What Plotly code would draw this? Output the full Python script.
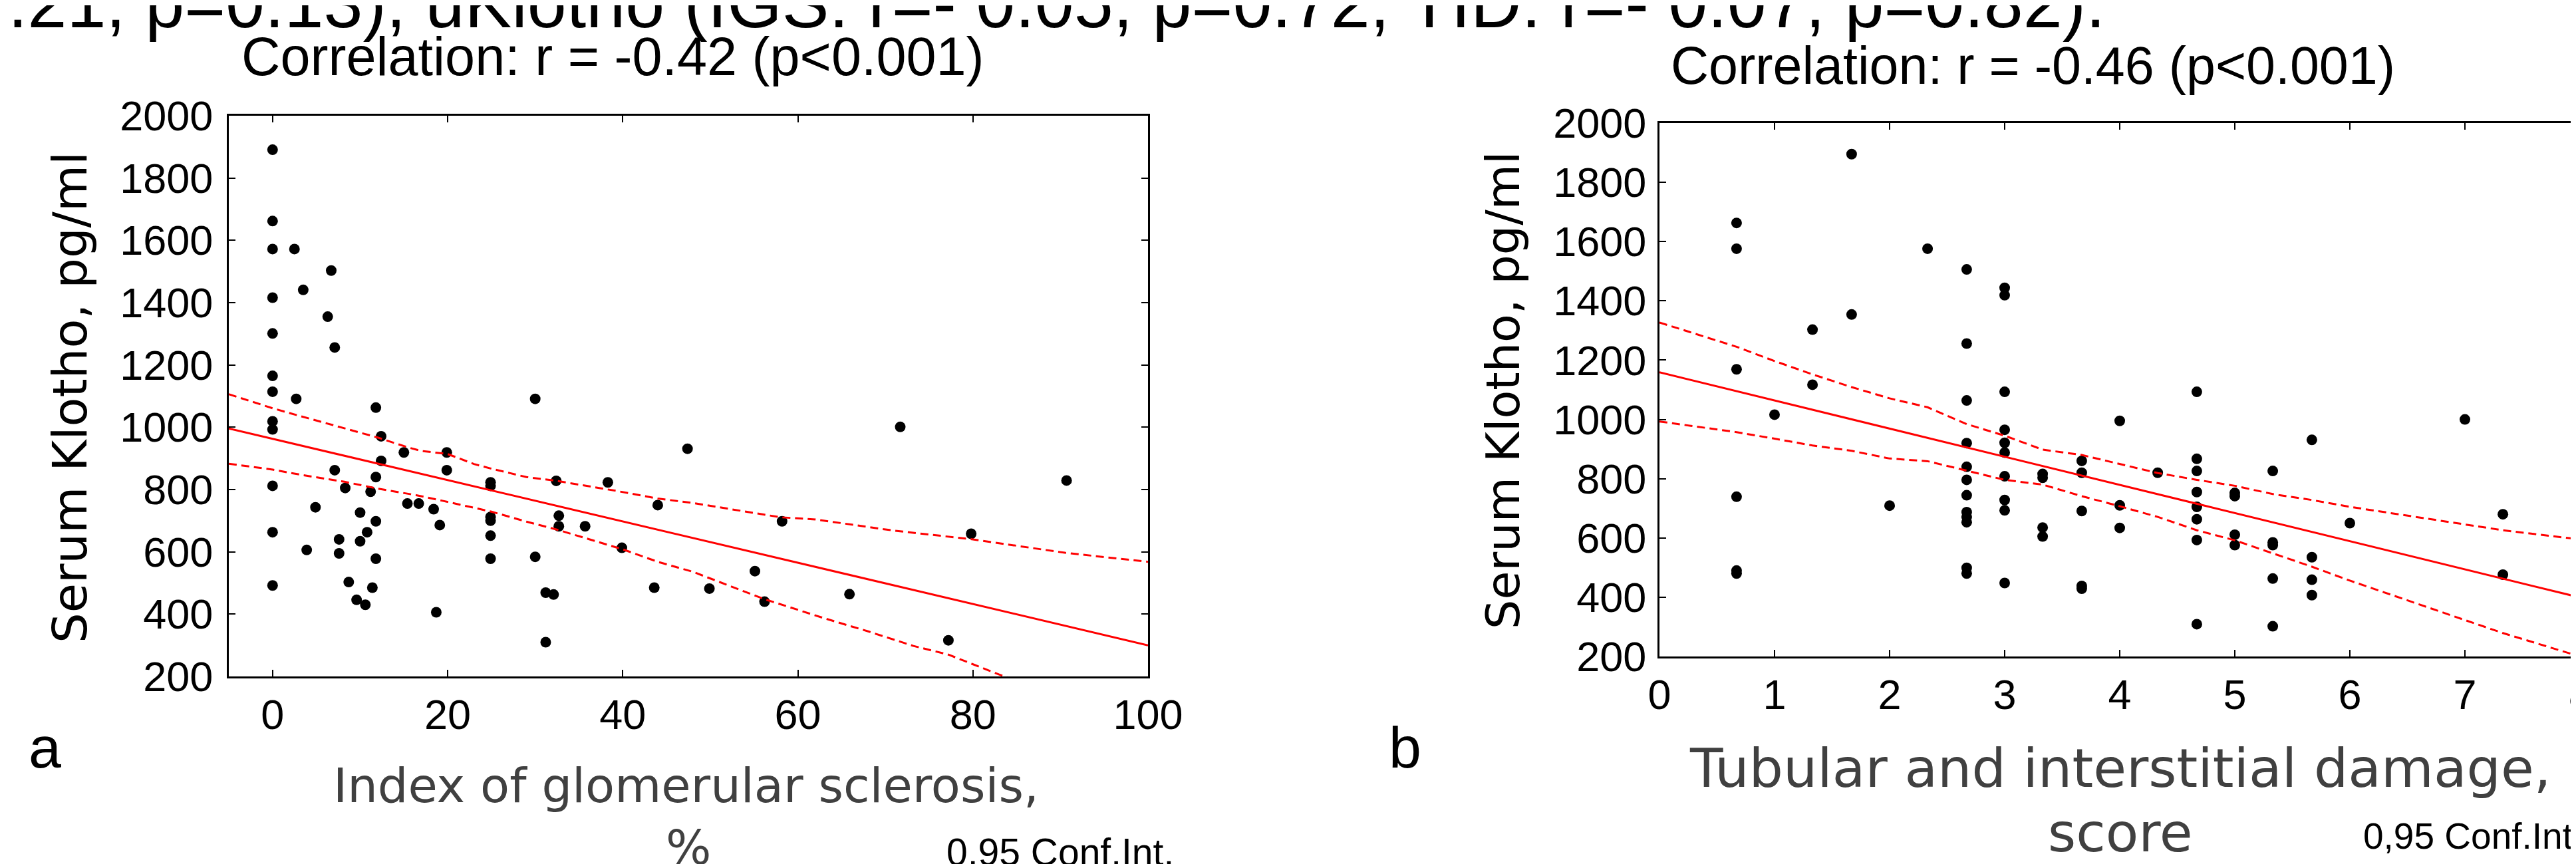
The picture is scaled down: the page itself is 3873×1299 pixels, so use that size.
import plotly.graph_objects as go

W, H = 3873, 1299

# ---------------- Panel a: Index of glomerular sclerosis (%) ----------------
igs_pct = [0, 0, 0, 2.5, 6.7, 3.5, 0, 6.3, 0, 7.1,
           0, 0, 2.7, 30.0, 11.8, 0, 0, 12.4, 15.0, 19.9,
           12.4, 7.1, 19.9, 11.8, 24.9, 24.9, 32.4, 38.3, 0, 8.3,
           11.2, 4.9, 15.4, 16.7, 18.4, 44.0, 10.0, 11.8, 19.1, 24.9,
           24.9, 32.7, 32.7, 35.7, 0, 10.8, 7.6, 10.0, 24.9, 39.9,
           3.9, 7.6, 11.8, 24.9, 30.0, 0, 8.7, 11.4, 43.6, 31.2,
           32.1, 9.6, 10.6, 18.7, 31.2, 47.4, 49.9, 55.1, 56.2, 58.2,
           65.9, 71.7, 77.2, 79.8, 90.7]
igs_klotho = [1891, 1662, 1572, 1572, 1503, 1441, 1416, 1355, 1301, 1256,
              1165, 1114, 1091, 1091, 1063, 1019, 993, 971, 919, 919,
              892, 862, 862, 840, 823, 812, 828, 823, 812, 805,
              793, 743, 755, 755, 737, 750, 726, 698, 686, 712,
              700, 716, 682, 682, 663, 663, 640, 634, 652, 613,
              606, 595, 578, 578, 584, 492, 503, 485, 485, 469,
              463, 446, 430, 406, 310, 931, 482, 538, 440, 698,
              464, 1001, 316, 658, 829]

igs_fit_x = [-5, 100]
igs_fit_y = [996, 300]
igs_ci_up_x = [-5, 0, 2, 7, 12, 15.5, 17, 20, 23, 25, 29, 32.4, 39.2, 44, 48,
               58, 62, 71, 80, 90.5, 100]
igs_ci_up_y = [1106, 1061, 1045, 1006, 967, 935, 924, 914, 882, 867, 840, 828,
               796, 771, 757, 711, 704, 668, 640, 597, 568]
igs_ci_lo_x = [-5, -1.6, 0, 3.5, 8.2, 12, 16.4, 19.4, 25, 29, 32.4, 36.1, 40,
               44, 48, 56.2, 63, 68.1, 73.2, 77.2, 83, 90, 100]
igs_ci_lo_y = [883, 871, 864, 846, 825, 803, 782, 764, 729, 697, 672, 641, 608,
               568, 536, 448, 387, 344, 298, 270, 206, 137, 32]

# ---------------- Panel b: Tubular and interstitial damage score -------------
tid_score = ([0.67] * 6 + [1.0] + [1.33] * 2 + [1.67] * 2 + [2.0] + [2.33]
             + [2.67] * 12 + [3.0] * 10 + [3.33] * 4 + [3.67] * 5 + [4.0] * 3
             + [4.33] + [4.67] * 8 + [5.0] * 4 + [5.33] * 5 + [5.67] * 4
             + [6.0] + [7.0] + [7.33] * 2)
tid_klotho = [1663, 1576, 1169, 739, 490, 480,
              1016,
              1303, 1117,
              1895, 1354,
              709,
              1576,
              1506, 1256, 1064, 920, 840, 796, 744, 687, 671, 653, 499, 480,
              1444, 1419, 1093, 965, 921, 888, 808, 728, 693, 448,
              816, 803, 635, 605,
              860, 820, 691, 438, 429,
              995, 710, 634,
              820,
              1093, 867, 826, 755, 705, 663, 593, 309,
              752, 741, 611, 576,
              826, 585, 576, 463, 302,
              931, 535, 459, 407,
              650,
              1000,
              680, 476]

tid_fit_x = [0, 8]
tid_fit_y = [1159, 399]
tid_ci_x = [0, 0.67, 1, 1.33, 1.67, 2, 2.33, 2.67, 3, 3.33, 3.67, 4, 4.33,
            4.67, 5, 5.33, 5.67, 6, 7, 7.33, 8]
tid_ci_up_y = [1327, 1245, 1197, 1152, 1109, 1071, 1041, 984, 945, 898, 880,
               850, 819, 796, 776, 748, 728, 705, 646, 626, 595]
tid_ci_lo_y = [993, 957, 935, 912, 894, 868, 859, 827, 796, 780, 741, 707,
               671, 626, 592, 548, 503, 456, 322, 279, 200]

y_ticks = list(range(200, 2001, 200))
igs_ticks = [0, 20, 40, 60, 80, 100]
tid_ticks = [0, 1, 2, 3, 4, 5, 6, 7, 8]

RED = "#ff0000"
ARIAL = "Liberation Sans, Arial, sans-serif"
VERD = "DejaVu Sans, Verdana, sans-serif"
GRAY = "#404040"

fig = go.Figure()


def add_panel(xs, ys, fx, fy, ux, uy, lx, ly, xa, ya):
    fig.add_trace(go.Scatter(x=xs, y=ys, mode="markers", xaxis=xa, yaxis=ya,
                             marker=dict(size=16, color="black", line=dict(width=0)),
                             showlegend=False, hoverinfo="skip"))
    fig.add_trace(go.Scatter(x=fx, y=fy, mode="lines", xaxis=xa, yaxis=ya,
                             line=dict(color=RED, width=3), showlegend=False))
    fig.add_trace(go.Scatter(x=ux, y=uy, mode="lines", xaxis=xa, yaxis=ya,
                             line=dict(color=RED, width=3, dash="12px,7px"),
                             showlegend=False))
    fig.add_trace(go.Scatter(x=lx, y=ly, mode="lines", xaxis=xa, yaxis=ya,
                             line=dict(color=RED, width=3, dash="12px,7px"),
                             showlegend=False))


add_panel(igs_pct, igs_klotho, igs_fit_x, igs_fit_y, igs_ci_up_x, igs_ci_up_y,
          igs_ci_lo_x, igs_ci_lo_y, "x", "y")
add_panel(tid_score, tid_klotho, tid_fit_x, tid_fit_y, tid_ci_x, tid_ci_up_y,
          tid_ci_x, tid_ci_lo_y, "x2", "y2")

axis_common = dict(showline=True, linecolor="black", linewidth=3, mirror="ticks",
                   ticks="inside", ticklen=10, tickwidth=2, tickcolor="black",
                   showgrid=False, zeroline=False, automargin=False,
                   ticklabeloverflow="allow",
                   tickfont=dict(family=ARIAL, size=63, color="black"))


def px_x(p):
    return p / W


def px_y(p):
    return 1 - p / H


fig.update_layout(
    width=W, height=H,
    margin=dict(l=0, r=0, t=0, b=0),
    paper_bgcolor="white", plot_bgcolor="white",
    font=dict(family=ARIAL, color="black"),
    xaxis=dict(domain=[px_x(336), px_x(1718)], range=[-5, 100], tickvals=igs_ticks,
               anchor="y", **axis_common),
    yaxis=dict(domain=[px_y(1009), px_y(166)], range=[200, 2000], tickvals=y_ticks,
               anchor="x", ticklabelstandoff=8, **axis_common),
    xaxis2=dict(domain=[px_x(2487), px_x(3871)], range=[0, 8], tickvals=tid_ticks,
                anchor="y2", **axis_common),
    yaxis2=dict(domain=[px_y(979), px_y(177)], range=[200, 2000], tickvals=y_ticks,
                anchor="x2", ticklabelstandoff=4, **axis_common),
)


def ann(text, x, y, size, family=ARIAL, color="black", xanchor="center",
        angle=0):
    fig.add_annotation(text=text, x=px_x(x), y=px_y(y), xref="paper", yref="paper",
                       xanchor=xanchor, yanchor="middle", showarrow=False,
                       textangle=angle, font=dict(family=family, size=size, color=color))


ann(".21, p=0.13), uKlotho (IGS: r=- 0.05, p=0.72, TID: r=- 0.07, p=0.82).",
    2, -4, 106, xanchor="left")
ann("Correlation: r = -0.42 (p<0.001)", 913, 77, 81)
ann("Correlation: r = -0.46 (p<0.001)", 3048, 90, 79)

ann("Serum Klotho, pg/ml", 97, 590, 72, family=VERD, angle=-90)
ann("Serum Klotho, pg/ml", 2252, 579, 70, family=VERD, angle=-90)

ann("Index of glomerular sclerosis,", 1024, 1173, 72, family=VERD, color=GRAY)
ann("%", 1027, 1266, 72, family=VERD, color=GRAY)
ann("Tubular and interstitial damage,", 3180, 1147, 81, family=VERD, color=GRAY)
ann("score", 3180, 1244, 81, family=VERD, color=GRAY)

ann("0,95 Conf.Int.", 1413, 1273, 57, xanchor="left")
ann("0,95 Conf.Int.", 3543, 1249, 55, xanchor="left")

ann("a", 33, 1115, 88, xanchor="left")
ann("b", 2078, 1115, 88, xanchor="left")

fig.write_html("out.html")
